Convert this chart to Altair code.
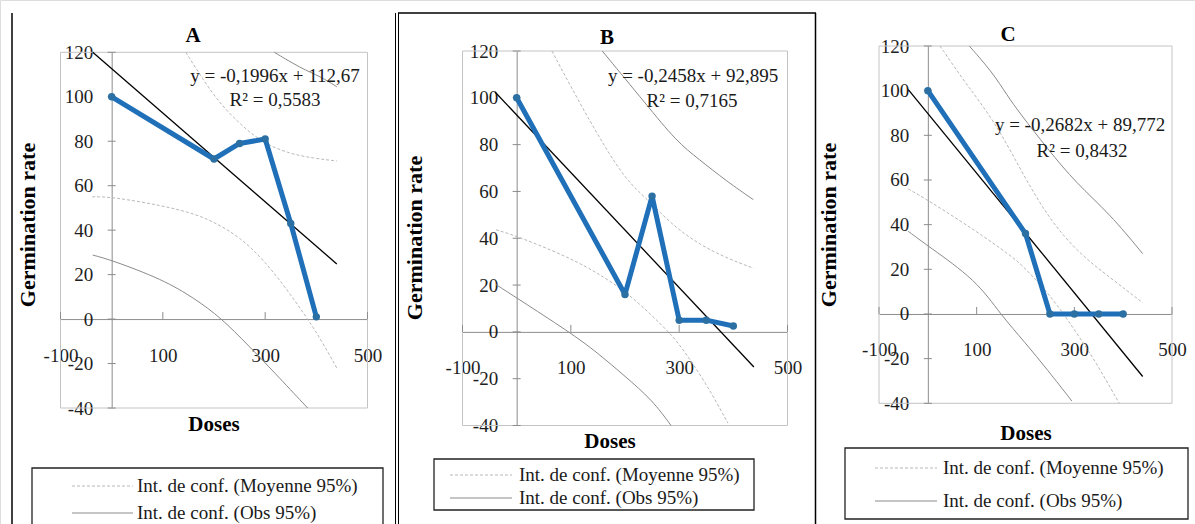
import altair as alt
import pandas as pd

# ---------------- data ----------------
doses = [0, 200, 250, 300, 350, 400]
rate_A = [100, 72, 79, 81, 43, 1]
rate_B = [100, 16, 58, 5, 5, 2.5]
rate_C = [100, 36, 0, 0, 0, 0]

trend_A_x = [-37, 440]
trend_A_y = [120, 24.8]
trend_B_x = [-40, 438]
trend_B_y = [102.5, -15]
trend_C_x = [-40, 440]
trend_C_y = [100.5, -28]

A_mean_lo_x = [-38, 0, 100, 160, 200, 250, 300, 350, 400, 440]
A_mean_lo_y = [55, 55, 51, 47.5, 43.7, 37, 26, 11, -5.5, -22]
A_mean_hi_x = [145, 181, 214, 253, 292, 344, 396, 440]
A_mean_hi_y = [120, 106.8, 96.3, 87.3, 79.8, 74.5, 72.3, 71.1]
A_obs_lo_x = [-37, 0, 100, 162, 214, 266, 318, 383]
A_obs_lo_y = [28.8, 26.5, 17.8, 9.3, 0.5, -11.6, -24, -40]
A_obs_hi_x = [318, 370, 409, 440]
A_obs_hi_y = [120, 112.8, 109, 104.5]

B_mean_lo_x = [-38, 0, 100, 150, 200, 250, 280, 300, 350, 390]
B_mean_lo_y = [43.6, 41, 31.5, 25, 17.5, 7, 0, -5, -22, -39]
B_mean_hi_x = [65, 111, 160, 203, 242, 290, 340, 388, 437]
B_mean_hi_y = [120, 100, 80, 64.5, 56.5, 45, 37, 31.5, 27.2]
B_obs_lo_x = [-38, 0, 97, 150, 200, 250, 285]
B_obs_lo_y = [20.2, 14.5, 0, -9, -19, -29, -40]
B_obs_hi_x = [158, 240, 295, 335, 388, 437]
B_obs_hi_y = [120, 97, 81.4, 74, 64.3, 56.5]

C_mean_lo_x = [-40, 0, 100, 170, 190, 240, 275, 300, 340, 392]
C_mean_lo_y = [56, 51, 37, 26, 22.5, 11, 1, -7, -20, -40]
C_mean_hi_x = [25, 72, 100, 148, 196, 250, 310, 375, 440]
C_mean_hi_y = [120, 105, 97, 82, 62, 42, 27, 16, 5]
C_obs_lo_x = [-40, 0, 100, 148, 200, 245, 295]
C_obs_lo_y = [37, 30.5, 15, 0, -13, -25, -39]
C_obs_hi_x = [85, 133, 162, 188, 245, 304, 372, 440]
C_obs_hi_y = [120, 108, 98, 90, 74, 58.5, 45, 27]

x_ticks = [-100, 100, 300, 500]
y_ticks = [-40, -20, 0, 20, 40, 60, 80, 100, 120]
X_DOMAIN = [-100, 500]
Y_DOMAIN = [-40, 120]

panel_titles = ["A", "B", "C"]
equations = ["y = -0,1996x + 112,67", "y = -0,2458x + 92,895", "y = -0,2682x + 89,772"]
r2_texts = ["R² = 0,5583", "R² = 0,7165", "R² = 0,8432"]
legend_labels = ["Int. de conf. (Moyenne 95%)", "Int. de conf. (Obs 95%)"]
y_title = "Germination rate"
x_title = "Doses"

# ---------------- layout / style ----------------
W, H = 1195, 524
SERIF = "Liberation Serif"
BLUE = "#1F70B8"
PT = "#2B6FA3"
AXC = "#8c8c8c"
FRAME = "#c4c4c4"
MEAN_C = "#b8b8b8"
OBS_C = "#8a8a8a"
TICK_FS = 19

panels = [
    dict(xr=[60.5, 367.5], yr=[408, 52.3], rate=rate_A, tx=trend_A_x, ty=trend_A_y,
         curves=[(A_mean_lo_x, A_mean_lo_y, "m"), (A_mean_hi_x, A_mean_hi_y, "m"),
                 (A_obs_lo_x, A_obs_lo_y, "o"), (A_obs_hi_x, A_obs_hi_y, "o")],
         title=(193, 36), eq=(275, 76), r2=(275, 100), ytitle=(28, 225), xtitle=(214, 425),
         leg_box=(32, 383, 468, 530), leg_line=(72, 133), leg_text=137, leg_y=(486, 513)),
    dict(xr=[462.5, 787.5], yr=[425.5, 51], rate=rate_B, tx=trend_B_x, ty=trend_B_y,
         curves=[(B_mean_lo_x, B_mean_lo_y, "m"), (B_mean_hi_x, B_mean_hi_y, "m"),
                 (B_obs_lo_x, B_obs_lo_y, "o"), (B_obs_hi_x, B_obs_hi_y, "o")],
         title=(607, 38), eq=(693, 76), r2=(692, 101), ytitle=(415, 238), xtitle=(610, 442),
         leg_box=(434, 754, 459, 510), leg_line=(450, 512), leg_text=519, leg_y=(475, 498)),
    dict(xr=[879, 1172], yr=[403.3, 46], rate=rate_C, tx=trend_C_x, ty=trend_C_y,
         curves=[(C_mean_lo_x, C_mean_lo_y, "m"), (C_mean_hi_x, C_mean_hi_y, "m"),
                 (C_obs_lo_x, C_obs_lo_y, "o"), (C_obs_hi_x, C_obs_hi_y, "o")],
         title=(1008, 35), eq=(1080, 125), r2=(1082, 151), ytitle=(829, 225), xtitle=(1026, 434),
         leg_box=(845, 1188, 448, 519), leg_line=(875, 937), leg_text=943, leg_y=(468, 501)),
]

ONE = pd.DataFrame({"k": [0]})


def sx(p):
    return alt.Scale(domain=X_DOMAIN, range=p["xr"], nice=False, zero=False)


def sy(p):
    return alt.Scale(domain=Y_DOMAIN, range=p["yr"], nice=False, zero=False)


def px0(p):
    a, b = p["xr"]
    return a + (0 - X_DOMAIN[0]) / (X_DOMAIN[1] - X_DOMAIN[0]) * (b - a)


def py0(p):
    a, b = p["yr"]
    return a + (0 - Y_DOMAIN[0]) / (Y_DOMAIN[1] - Y_DOMAIN[0]) * (b - a)


def text(t, x, y, size, bold=False, angle=0, align="center", color="#1a1a1a"):
    kw = dict(font=SERIF, fontSize=size, align=align, baseline="middle", color=color)
    if bold:
        kw["fontWeight"] = "bold"
    if angle:
        kw["angle"] = angle
    return alt.Chart(pd.DataFrame({"t": [t]})).mark_text(**kw).encode(
        text="t:N", x=alt.value(x), y=alt.value(y))


def rule(x1, x2, y1, y2, color="black", width=1.0, dash=None):
    kw = dict(color=color, strokeWidth=width)
    if dash:
        kw["strokeDash"] = dash
    return alt.Chart(ONE).mark_rule(**kw).encode(
        x=alt.value(x1), x2=alt.value(x2), y=alt.value(y1), y2=alt.value(y2))


layers = []

# panel borders
layers.append(rule(12, 12, 13, H, width=1.5))
layers.append(rule(395.5, 395.5, 13, H, width=1))
layers.append(rule(398.5, 398.5, 13, H, width=1))
layers.append(rule(398, 816, 13, 13, width=1.5))
layers.append(rule(815.5, 815.5, 13, H, width=1.5))

for i, p in enumerate(panels):
    x0 = px0(p)
    y0 = py0(p)
    # plot frame (no fill so the axes stay visible)
    layers.append(alt.Chart(ONE).mark_rect(fillOpacity=0, stroke=FRAME, strokeWidth=1).encode(
        x=alt.value(p["xr"][0]), x2=alt.value(p["xr"][1]),
        y=alt.value(p["yr"][1]), y2=alt.value(p["yr"][0])))

    # axes (crossing at the origin)
    tick_df = pd.DataFrame({"v": [0]})
    y_axis = alt.Axis(orient="left", offset=-x0, values=y_ticks, grid=False, ticks=False,
                      domainColor=AXC, domainWidth=1, labelFont=SERIF, labelFontSize=TICK_FS,
                      labelColor="#1e1e1e", labelPadding=19, title=None, labelOverlap=False,
                      labelBound=False, labelExpr="'' + datum.value")
    x_axis = alt.Axis(orient="bottom", offset=-(H - y0), values=x_ticks, grid=False, ticks=False,
                      domainColor=AXC, domainWidth=1, labelFont=SERIF, labelFontSize=TICK_FS,
                      labelColor="#1e1e1e", labelPadding=27, title=None, labelOverlap=False,
                      labelFlush=False, labelBound=False, labelExpr="'' + datum.value")
    layers.append(alt.Chart(tick_df).mark_point(opacity=0).encode(
        x=alt.X("v:Q", scale=sx(p), axis=x_axis),
        y=alt.Y("v:Q", scale=sy(p), axis=y_axis)))

    # tick marks
    ytk = pd.DataFrame({"v": y_ticks, "z": [0] * len(y_ticks)})
    layers.append(alt.Chart(ytk).mark_rule(color=AXC, strokeWidth=1, xOffset=-4, x2Offset=4).encode(
        x=alt.X("z:Q", scale=sx(p), axis=None), x2="z:Q",
        y=alt.Y("v:Q", scale=sy(p), axis=None)))
    xtk = pd.DataFrame({"v": x_ticks, "z": [0] * len(x_ticks)})
    layers.append(alt.Chart(xtk).mark_rule(color=AXC, strokeWidth=1, yOffset=-7, y2Offset=0).encode(
        x=alt.X("v:Q", scale=sx(p), axis=None),
        y=alt.Y("z:Q", scale=sy(p), axis=None), y2="z:Q"))

    # confidence curves
    for cx, cy, kind in p["curves"]:
        df = pd.DataFrame({"x": cx, "y": cy})
        if kind == "m":
            mk = alt.Chart(df).mark_line(color=MEAN_C, strokeWidth=1, strokeDash=[3, 2],
                                         interpolate="basis")
        else:
            mk = alt.Chart(df).mark_line(color=OBS_C, strokeWidth=1, interpolate="basis")
        layers.append(mk.encode(x=alt.X("x:Q", scale=sx(p), axis=None),
                                y=alt.Y("y:Q", scale=sy(p), axis=None)))

    # trend line
    tdf = pd.DataFrame({"x": p["tx"], "y": p["ty"]})
    layers.append(alt.Chart(tdf).mark_line(color="black", strokeWidth=1.3).encode(
        x=alt.X("x:Q", scale=sx(p), axis=None), y=alt.Y("y:Q", scale=sy(p), axis=None)))

    # observed data
    ddf = pd.DataFrame({"dose": doses, "rate": p["rate"]})
    layers.append(alt.Chart(ddf).mark_line(color=BLUE, strokeWidth=5, strokeJoin="round",
                                           strokeCap="round").encode(
        x=alt.X("dose:Q", scale=sx(p), axis=None), y=alt.Y("rate:Q", scale=sy(p), axis=None)))
    layers.append(alt.Chart(ddf).mark_circle(color=PT, size=55, opacity=1).encode(
        x=alt.X("dose:Q", scale=sx(p), axis=None), y=alt.Y("rate:Q", scale=sy(p), axis=None)))

    # texts
    layers.append(text(panel_titles[i], *p["title"], 21, bold=True, color="black"))
    layers.append(text(equations[i], *p["eq"], 19))
    layers.append(text(r2_texts[i], *p["r2"], 19))
    layers.append(text(y_title, *p["ytitle"], 22, bold=True, angle=270, color="black"))
    layers.append(text(x_title, *p["xtitle"], 21, bold=True, color="black"))

    # legend box
    bx1, bx2, by1, by2 = p["leg_box"]
    layers.append(alt.Chart(ONE).mark_rect(fill="white", stroke="#222222", strokeWidth=1.3).encode(
        x=alt.value(bx1), x2=alt.value(bx2), y=alt.value(by1), y2=alt.value(by2)))
    lx1, lx2 = p["leg_line"]
    ly1, ly2 = p["leg_y"]
    layers.append(rule(lx1, lx2, ly1, ly1, color=MEAN_C, width=1, dash=[3, 2]))
    layers.append(rule(lx1, lx2, ly2, ly2, color=OBS_C, width=1))
    layers.append(text(legend_labels[0], p["leg_text"], ly1, 19, align="left"))
    layers.append(text(legend_labels[1], p["leg_text"], ly2, 19, align="left"))

chart = alt.layer(*layers).properties(
    width=W, height=H, padding=0,
    autosize=alt.AutoSizeParams(type="none"),
).resolve_scale(x="independent", y="independent").configure_view(stroke=None).configure(
    background="white")

chart.save("out.html", embed_options={"renderer": "svg", "actions": False})
